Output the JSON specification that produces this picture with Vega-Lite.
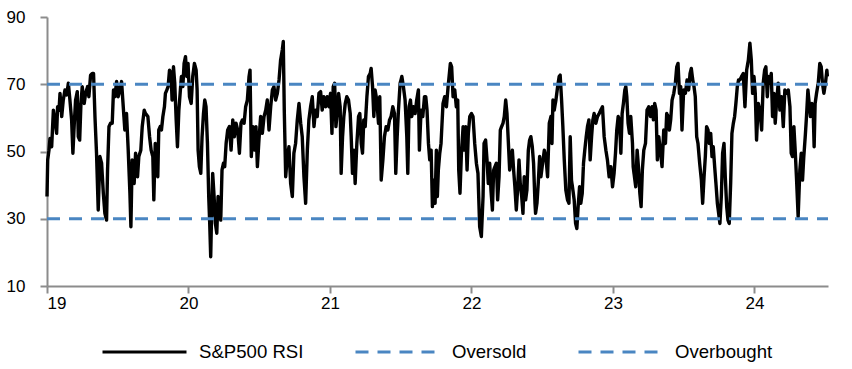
{
  "$schema": "https://vega.github.io/schema/vega-lite/v6.json",
  "width": 781,
  "height": 269,
  "autosize": {"type": "none"},
  "padding": {"left": 47, "top": 17, "right": 24, "bottom": 83},
  "background": "white",
  "config": {
    "view": {"stroke": null},
    "font": "Liberation Sans",
    "axis": {
      "grid": false,
      "domainColor": "#8c8c8c",
      "domainWidth": 2,
      "tickColor": "#8c8c8c",
      "tickWidth": 2,
      "tickSize": 7,
      "labelFont": "Liberation Sans",
      "labelFontSize": 17,
      "labelColor": "#000000",
      "title": null
    },
    "legend": {
      "orient": "none",
      "legendX": 54,
      "legendY": 291,
      "direction": "horizontal",
      "title": null,
      "symbolType": "stroke",
      "symbolSize": 7056,
      "symbolStrokeWidth": 3,
      "labelFont": "Liberation Sans",
      "labelFontSize": 18.6,
      "labelColor": "#000000",
      "labelOffset": 11,
      "columnPadding": 45
    }
  },
  "datasets": {
    "rsi": [
{"t":19.000,"v":36.6},{"t":19.005,"v":47.5},{"t":19.014,"v":50.4},{"t":19.021,"v":53.9},{"t":19.033,"v":51.4},{"t":19.045,"v":62.3},{"t":19.056,"v":59.4},{"t":19.068,"v":55.4},{"t":19.075,"v":63.3},{"t":19.085,"v":62.3},{"t":19.092,"v":67.3},{"t":19.104,"v":60.4},{"t":19.115,"v":65.3},{"t":19.127,"v":68.3},{"t":19.139,"v":66.8},{"t":19.151,"v":70.3},{"t":19.162,"v":65.3},{"t":19.174,"v":59.4},{"t":19.183,"v":49.5},{"t":19.193,"v":58.4},{"t":19.202,"v":65.3},{"t":19.214,"v":67.8},{"t":19.221,"v":54.4},{"t":19.231,"v":53.4},{"t":19.240,"v":64.3},{"t":19.249,"v":69.3},{"t":19.263,"v":64.3},{"t":19.273,"v":67.3},{"t":19.287,"v":69.3},{"t":19.296,"v":66.3},{"t":19.308,"v":72.7},{"t":19.320,"v":73.2},{"t":19.329,"v":73.2},{"t":19.339,"v":60.4},{"t":19.350,"v":49.5},{"t":19.362,"v":32.6},{"t":19.374,"v":48.5},{"t":19.386,"v":46.5},{"t":19.398,"v":37.6},{"t":19.409,"v":31.6},{"t":19.421,"v":29.6},{"t":19.428,"v":44.5},{"t":19.438,"v":57.4},{"t":19.449,"v":58.4},{"t":19.461,"v":58.4},{"t":19.470,"v":68.3},{"t":19.480,"v":66.3},{"t":19.492,"v":70.8},{"t":19.503,"v":66.3},{"t":19.515,"v":68.3},{"t":19.527,"v":70.8},{"t":19.539,"v":63.3},{"t":19.550,"v":56.4},{"t":19.562,"v":61.3},{"t":19.574,"v":50.4},{"t":19.586,"v":37.6},{"t":19.593,"v":27.6},{"t":19.602,"v":47.5},{"t":19.616,"v":40.5},{"t":19.626,"v":49.5},{"t":19.640,"v":42.5},{"t":19.649,"v":48.5},{"t":19.663,"v":50.4},{"t":19.673,"v":57.4},{"t":19.687,"v":62.3},
{"t":19.696,"v":61.3},{"t":19.713,"v":60.4},{"t":19.725,"v":54.4},{"t":19.736,"v":50.4},{"t":19.748,"v":48.5},{"t":19.755,"v":35.6},{"t":19.765,"v":52.4},{"t":19.776,"v":49.5},{"t":19.783,"v":42.5},{"t":19.790,"v":56.4},{"t":19.800,"v":57.4},{"t":19.809,"v":56.4},{"t":19.819,"v":60.4},{"t":19.830,"v":63.3},{"t":19.837,"v":67.3},{"t":19.847,"v":68.3},{"t":19.856,"v":69.3},{"t":19.866,"v":74.2},{"t":19.877,"v":73.2},{"t":19.884,"v":65.3},{"t":19.894,"v":75.2},{"t":19.903,"v":70.3},{"t":19.913,"v":59.4},{"t":19.922,"v":51.4},{"t":19.932,"v":62.3},{"t":19.941,"v":67.3},{"t":19.950,"v":72.3},{"t":19.960,"v":69.3},{"t":19.969,"v":76.2},{"t":19.979,"v":78.2},{"t":19.988,"v":72.3},{"t":19.997,"v":76.2},{"t":20.007,"v":66.3},{"t":20.019,"v":64.3},{"t":20.030,"v":72.3},{"t":20.042,"v":76.2},{"t":20.054,"v":74.2},{"t":20.061,"v":68.3},{"t":20.068,"v":50.4},{"t":20.077,"v":45.5},{"t":20.087,"v":43.5},{"t":20.096,"v":54.4},{"t":20.106,"v":61.3},{"t":20.115,"v":65.3},{"t":20.124,"v":63.3},{"t":20.134,"v":52.4},{"t":20.143,"v":36.6},{"t":20.150,"v":28.6},{"t":20.157,"v":18.7},{"t":20.164,"v":32.6},{"t":20.171,"v":43.5},{"t":20.181,"v":36.6},{"t":20.190,"v":28.6},{"t":20.200,"v":25.7},{"t":20.209,"v":36.6},{"t":20.219,"v":32.6},{"t":20.228,"v":29.6},{"t":20.237,"v":44.5},{"t":20.247,"v":46.5},{"t":20.256,"v":45.5},{"t":20.266,"v":52.4},{"t":20.277,"v":56.4},{"t":20.289,"v":57.4},{"t":20.301,"v":50.4},{"t":20.313,"v":59.4},{"t":20.324,"v":54.4},{"t":20.336,"v":58.4},{"t":20.348,"v":56.4},{"t":20.360,"v":49.5},{"t":20.371,"v":58.4},
{"t":20.381,"v":59.4},{"t":20.393,"v":58.4},{"t":20.404,"v":63.3},{"t":20.416,"v":65.3},{"t":20.428,"v":72.3},{"t":20.435,"v":74.2},{"t":20.444,"v":48.5},{"t":20.456,"v":57.4},{"t":20.468,"v":50.4},{"t":20.477,"v":57.4},{"t":20.487,"v":45.5},{"t":20.498,"v":53.4},{"t":20.510,"v":60.4},{"t":20.522,"v":55.4},{"t":20.534,"v":60.4},{"t":20.546,"v":62.3},{"t":20.557,"v":65.3},{"t":20.569,"v":56.4},{"t":20.581,"v":63.3},{"t":20.593,"v":68.3},{"t":20.604,"v":69.3},{"t":20.616,"v":65.3},{"t":20.628,"v":67.3},{"t":20.640,"v":71.3},{"t":20.651,"v":77.2},{"t":20.663,"v":80.2},{"t":20.670,"v":82.7},{"t":20.677,"v":62.3},{"t":20.687,"v":42.5},{"t":20.698,"v":48.5},{"t":20.710,"v":51.4},{"t":20.722,"v":40.5},{"t":20.734,"v":36.6},{"t":20.745,"v":49.5},{"t":20.757,"v":52.4},{"t":20.769,"v":59.4},{"t":20.781,"v":64.3},{"t":20.793,"v":58.4},{"t":20.804,"v":54.4},{"t":20.816,"v":42.5},{"t":20.828,"v":34.6},{"t":20.840,"v":50.4},{"t":20.851,"v":59.4},{"t":20.863,"v":63.3},{"t":20.875,"v":66.3},{"t":20.887,"v":57.4},{"t":20.898,"v":62.3},{"t":20.910,"v":60.4},{"t":20.922,"v":67.3},{"t":20.934,"v":67.8},{"t":20.945,"v":62.3},{"t":20.957,"v":66.3},{"t":20.969,"v":63.3},{"t":20.981,"v":66.3},{"t":20.993,"v":63.3},{"t":21.004,"v":67.3},{"t":21.014,"v":55.4},{"t":21.023,"v":69.3},{"t":21.033,"v":70.3},{"t":21.042,"v":57.4},{"t":21.051,"v":61.3},
{"t":21.061,"v":67.3},{"t":21.072,"v":63.3},{"t":21.079,"v":43.5},{"t":21.089,"v":54.4},{"t":21.098,"v":60.4},{"t":21.108,"v":64.3},{"t":21.119,"v":66.3},{"t":21.131,"v":65.3},{"t":21.143,"v":61.3},{"t":21.150,"v":54.4},{"t":21.159,"v":43.5},{"t":21.169,"v":50.4},{"t":21.178,"v":40.5},{"t":21.190,"v":52.4},{"t":21.202,"v":60.4},{"t":21.211,"v":61.3},{"t":21.221,"v":52.4},{"t":21.230,"v":49.5},{"t":21.239,"v":59.4},{"t":21.249,"v":57.4},{"t":21.261,"v":66.3},{"t":21.272,"v":72.3},{"t":21.284,"v":73.2},{"t":21.291,"v":74.7},{"t":21.301,"v":69.3},{"t":21.310,"v":60.4},{"t":21.319,"v":68.3},{"t":21.331,"v":65.3},{"t":21.343,"v":58.4},{"t":21.352,"v":66.3},{"t":21.362,"v":41.5},{"t":21.374,"v":47.5},{"t":21.385,"v":54.4},{"t":21.397,"v":57.4},{"t":21.409,"v":56.4},{"t":21.421,"v":59.4},{"t":21.432,"v":60.4},{"t":21.444,"v":63.3},{"t":21.456,"v":61.3},{"t":21.465,"v":43.5},{"t":21.475,"v":54.4},{"t":21.484,"v":62.3},{"t":21.496,"v":70.3},{"t":21.508,"v":72.3},{"t":21.519,"v":69.3},{"t":21.531,"v":65.3},{"t":21.543,"v":54.4},{"t":21.550,"v":43.5},{"t":21.559,"v":63.3},{"t":21.569,"v":65.3},{"t":21.578,"v":60.4},{"t":21.590,"v":63.3},{"t":21.602,"v":61.3},{"t":21.613,"v":65.3},{"t":21.625,"v":68.3},{"t":21.632,"v":50.4},{"t":21.644,"v":62.3},{"t":21.656,"v":60.4},{"t":21.668,"v":66.3},{"t":21.677,"v":66.3},{"t":21.686,"v":62.3},{"t":21.696,"v":52.4},{"t":21.705,"v":47.5},{"t":21.715,"v":50.4},{"t":21.724,"v":33.6},{"t":21.733,"v":41.5},{"t":21.743,"v":34.6},{"t":21.752,"v":50.4},
{"t":21.759,"v":36.6},{"t":21.766,"v":44.5},{"t":21.776,"v":49.5},{"t":21.785,"v":52.4},{"t":21.792,"v":58.4},{"t":21.799,"v":64.3},{"t":21.811,"v":66.3},{"t":21.823,"v":63.3},{"t":21.835,"v":69.3},{"t":21.842,"v":72.3},{"t":21.851,"v":76.2},{"t":21.860,"v":75.2},{"t":21.870,"v":66.3},{"t":21.882,"v":68.3},{"t":21.893,"v":63.3},{"t":21.903,"v":65.3},{"t":21.910,"v":44.5},{"t":21.919,"v":37.6},{"t":21.929,"v":49.5},{"t":21.941,"v":57.4},{"t":21.950,"v":50.4},{"t":21.959,"v":57.4},{"t":21.969,"v":44.5},{"t":21.978,"v":55.4},{"t":21.988,"v":60.4},{"t":22.000,"v":61.3},{"t":22.011,"v":60.4},{"t":22.023,"v":52.4},{"t":22.035,"v":46.5},{"t":22.046,"v":43.5},{"t":22.058,"v":27.6},{"t":22.070,"v":24.7},{"t":22.082,"v":36.6},{"t":22.089,"v":52.4},{"t":22.100,"v":53.4},{"t":22.110,"v":47.5},{"t":22.119,"v":40.5},{"t":22.129,"v":46.5},{"t":22.138,"v":38.5},{"t":22.148,"v":32.6},{"t":22.157,"v":44.5},{"t":22.166,"v":45.5},{"t":22.176,"v":46.5},{"t":22.185,"v":35.6},{"t":22.195,"v":42.5},{"t":22.204,"v":56.4},{"t":22.213,"v":57.4},{"t":22.223,"v":58.4},{"t":22.232,"v":60.4},{"t":22.242,"v":65.3},{"t":22.251,"v":61.3},{"t":22.260,"v":53.4},{"t":22.270,"v":44.5},{"t":22.279,"v":47.5},{"t":22.289,"v":50.4},{"t":22.298,"v":44.5},{"t":22.307,"v":39.5},{"t":22.317,"v":32.6},{"t":22.326,"v":38.5},{"t":22.336,"v":47.5},{"t":22.345,"v":40.5},{"t":22.355,"v":36.6},{"t":22.364,"v":31.6},{"t":22.373,"v":42.5},{"t":22.383,"v":35.6},{"t":22.392,"v":38.5},{"t":22.402,"v":50.4},{"t":22.411,"v":53.4},{"t":22.420,"v":54.4},{"t":22.430,"v":51.4},{"t":22.439,"v":46.5},{"t":22.449,"v":34.6},
{"t":22.453,"v":31.6},{"t":22.463,"v":34.6},{"t":22.472,"v":40.5},{"t":22.482,"v":48.5},{"t":22.491,"v":42.5},{"t":22.503,"v":46.5},{"t":22.515,"v":50.4},{"t":22.526,"v":48.5},{"t":22.538,"v":42.5},{"t":22.550,"v":58.4},{"t":22.562,"v":60.4},{"t":22.569,"v":52.4},{"t":22.576,"v":65.3},{"t":22.585,"v":62.3},{"t":22.597,"v":65.3},{"t":22.609,"v":69.3},{"t":22.620,"v":72.3},{"t":22.627,"v":72.7},{"t":22.637,"v":65.3},{"t":22.646,"v":57.4},{"t":22.656,"v":47.5},{"t":22.667,"v":38.5},{"t":22.679,"v":35.6},{"t":22.689,"v":34.6},{"t":22.698,"v":54.4},{"t":22.707,"v":41.5},{"t":22.717,"v":38.5},{"t":22.726,"v":35.6},{"t":22.736,"v":28.6},{"t":22.745,"v":27.1},{"t":22.754,"v":33.6},{"t":22.764,"v":39.5},{"t":22.773,"v":34.6},{"t":22.783,"v":37.6},{"t":22.792,"v":46.5},{"t":22.801,"v":50.4},{"t":22.811,"v":54.4},{"t":22.820,"v":57.4},{"t":22.830,"v":59.4},{"t":22.839,"v":47.5},{"t":22.849,"v":54.4},{"t":22.858,"v":59.4},{"t":22.867,"v":61.3},{"t":22.879,"v":58.4},{"t":22.891,"v":60.4},{"t":22.903,"v":61.3},{"t":22.914,"v":62.3},{"t":22.926,"v":63.3},{"t":22.938,"v":54.4},{"t":22.950,"v":50.4},{"t":22.961,"v":47.5},{"t":22.973,"v":42.5},{"t":22.985,"v":45.5},{"t":22.997,"v":39.5},{"t":23.008,"v":43.5},{"t":23.018,"v":49.5},{"t":23.027,"v":56.4},{"t":23.037,"v":60.4},{"t":23.046,"v":59.4},{"t":23.056,"v":49.5},{"t":23.065,"v":61.3},{"t":23.074,"v":64.3},{"t":23.084,"v":68.3},{"t":23.091,"v":69.3},{"t":23.098,"v":66.3},{"t":23.107,"v":58.4},{"t":23.117,"v":55.4},{"t":23.126,"v":60.4},{"t":23.138,"v":52.4},
{"t":23.143,"v":45.5},{"t":23.152,"v":42.5},{"t":23.161,"v":39.5},{"t":23.171,"v":50.4},{"t":23.180,"v":45.5},{"t":23.190,"v":37.6},{"t":23.199,"v":33.6},{"t":23.208,"v":44.5},{"t":23.218,"v":50.4},{"t":23.230,"v":52.4},{"t":23.241,"v":62.3},{"t":23.253,"v":63.3},{"t":23.265,"v":60.4},{"t":23.277,"v":63.3},{"t":23.286,"v":59.4},{"t":23.295,"v":64.3},{"t":23.305,"v":62.3},{"t":23.314,"v":47.5},{"t":23.324,"v":54.4},{"t":23.335,"v":50.4},{"t":23.347,"v":45.5},{"t":23.359,"v":56.4},{"t":23.371,"v":52.4},{"t":23.380,"v":61.3},{"t":23.390,"v":60.4},{"t":23.399,"v":56.4},{"t":23.408,"v":59.4},{"t":23.418,"v":65.3},{"t":23.430,"v":67.3},{"t":23.441,"v":70.3},{"t":23.451,"v":75.2},{"t":23.460,"v":76.2},{"t":23.470,"v":67.3},{"t":23.479,"v":69.3},{"t":23.488,"v":56.4},{"t":23.500,"v":68.3},{"t":23.512,"v":67.3},{"t":23.524,"v":71.3},{"t":23.535,"v":68.3},{"t":23.545,"v":73.2},{"t":23.554,"v":74.7},{"t":23.564,"v":71.3},{"t":23.573,"v":69.3},{"t":23.582,"v":66.3},{"t":23.592,"v":54.4},{"t":23.601,"v":52.4},{"t":23.613,"v":46.5},{"t":23.625,"v":41.5},{"t":23.634,"v":34.6},{"t":23.644,"v":42.5},{"t":23.653,"v":48.5},{"t":23.662,"v":57.4},{"t":23.672,"v":56.4},{"t":23.681,"v":52.4},{"t":23.691,"v":55.4},{"t":23.700,"v":48.5},{"t":23.709,"v":51.4},{"t":23.719,"v":45.5},{"t":23.728,"v":40.5},{"t":23.738,"v":34.6},{"t":23.747,"v":31.6},{"t":23.756,"v":28.6},{"t":23.766,"v":36.6},{"t":23.775,"v":49.5},{"t":23.785,"v":52.4},{"t":23.794,"v":42.5},{"t":23.804,"v":33.6},{"t":23.813,"v":29.6},{"t":23.822,"v":28.6},{"t":23.832,"v":40.5},
{"t":23.841,"v":55.4},{"t":23.851,"v":58.4},{"t":23.860,"v":60.4},{"t":23.869,"v":64.3},{"t":23.879,"v":69.3},{"t":23.888,"v":71.3},{"t":23.898,"v":71.3},{"t":23.909,"v":72.3},{"t":23.921,"v":73.2},{"t":23.933,"v":63.3},{"t":23.945,"v":74.2},{"t":23.957,"v":77.2},{"t":23.968,"v":82.2},{"t":23.978,"v":77.2},{"t":23.987,"v":67.3},{"t":23.997,"v":72.3},{"t":24.006,"v":67.3},{"t":24.015,"v":53.4},{"t":24.027,"v":64.3},{"t":24.039,"v":62.3},{"t":24.051,"v":56.4},{"t":24.062,"v":70.3},{"t":24.072,"v":74.2},{"t":24.081,"v":75.2},{"t":24.091,"v":66.3},{"t":24.100,"v":72.3},{"t":24.109,"v":70.3},{"t":24.119,"v":73.2},{"t":24.128,"v":60.4},{"t":24.138,"v":67.3},{"t":24.147,"v":58.4},{"t":24.156,"v":64.3},{"t":24.168,"v":70.3},{"t":24.180,"v":62.3},{"t":24.192,"v":66.3},{"t":24.204,"v":57.4},{"t":24.215,"v":68.3},{"t":24.227,"v":67.3},{"t":24.239,"v":68.3},{"t":24.251,"v":63.3},{"t":24.260,"v":49.5},{"t":24.269,"v":48.5},{"t":24.279,"v":57.4},{"t":24.288,"v":50.4},{"t":24.298,"v":41.5},{"t":24.309,"v":30.6},{"t":24.321,"v":44.5},{"t":24.331,"v":49.5},{"t":24.340,"v":41.5},{"t":24.349,"v":48.5},{"t":24.359,"v":54.4},{"t":24.368,"v":60.4},{"t":24.378,"v":68.3},{"t":24.387,"v":64.3},{"t":24.396,"v":60.4},{"t":24.406,"v":64.3},{"t":24.415,"v":62.3},{"t":24.422,"v":51.4},{"t":24.429,"v":64.3},{"t":24.439,"v":67.3},{"t":24.451,"v":70.3},{"t":24.462,"v":76.2},{"t":24.472,"v":75.2},{"t":24.481,"v":70.3},{"t":24.491,"v":67.3},{"t":24.502,"v":70.3},{"t":24.512,"v":74.2},{"t":24.516,"v":72.3}
    ],
    "levels": [
      {"t": 19, "v": 30, "series": "Oversold"},
      {"t": 24.52, "v": 30, "series": "Oversold"},
      {"t": 19, "v": 70, "series": "Overbought"},
      {"t": 24.52, "v": 70, "series": "Overbought"}
    ]
  },
  "layer": [
    {
      "data": {"name": "rsi"},
      "mark": {"type": "line", "strokeWidth": 3.4, "strokeJoin": "round"},
      "encoding": {
        "x": {"field": "t", "type": "quantitative", "scale": {"domain": [19, 24.52], "nice": false, "zero": false}, "axis": {"values": [19, 20, 21, 22, 23, 24], "format": "d", "labelPadding": 2}},
        "y": {"field": "v", "type": "quantitative", "scale": {"domain": [10, 90], "nice": false, "zero": false}, "axis": {"values": [10, 30, 50, 70, 90], "labelPadding": 15}},
        "color": {"datum": "S&P500 RSI", "type": "nominal", "scale": {"domain": ["S&P500 RSI", "Oversold", "Overbought"], "range": ["#000000", "#4a86c2", "#4a86c2"]}},
        "strokeDash": {"datum": "S&P500 RSI", "type": "nominal", "scale": {"domain": ["S&P500 RSI", "Oversold", "Overbought"], "range": [[1, 0], [13, 9], [13, 9]]}}
      }
    },
    {
      "data": {"name": "levels"},
      "mark": {"type": "line", "strokeWidth": 3},
      "encoding": {
        "x": {"field": "t", "type": "quantitative"},
        "y": {"field": "v", "type": "quantitative"},
        "color": {"field": "series", "type": "nominal"},
        "strokeDash": {"field": "series", "type": "nominal"}
      }
    }
  ]
}
